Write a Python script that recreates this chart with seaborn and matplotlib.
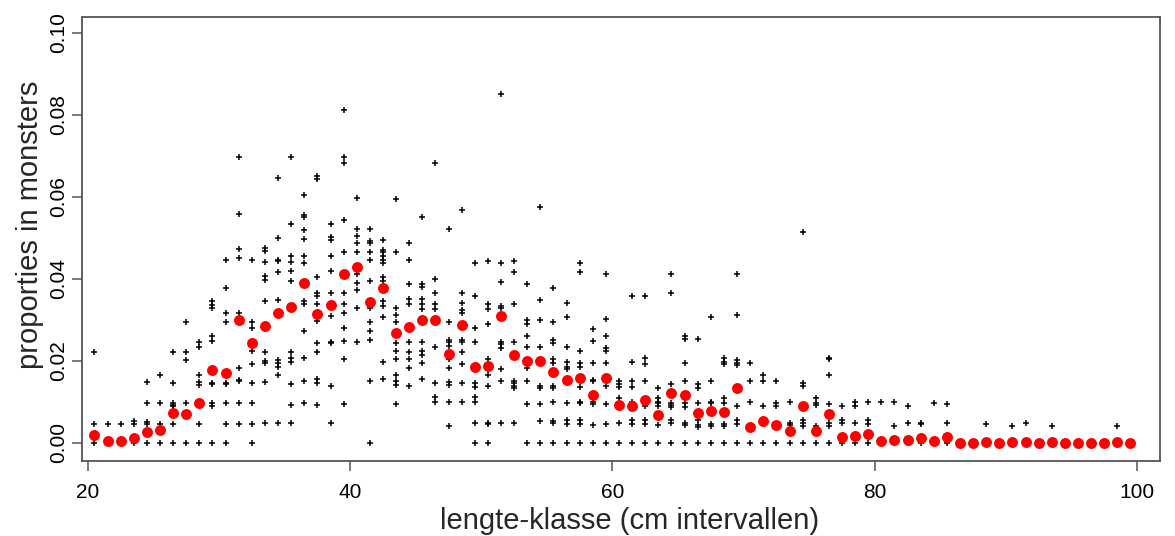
import numpy as np
import pandas as pd
import matplotlib
matplotlib.use('Agg')
import matplotlib.pyplot as plt
import seaborn as sns

# length classes (cm), midpoints of 1 cm intervals
length_class = np.arange(20.5, 100.0, 1.0)

# mean proportion per length class (red points)
mean_prop = [0.0020, 0.0004, 0.0004, 0.0012, 0.0027, 0.0032, 0.0073, 0.0071, 0.0097, 0.0178,
             0.0170, 0.0300, 0.0244, 0.0285, 0.0317, 0.0332, 0.0390, 0.0315, 0.0337, 0.0412,
             0.0430, 0.0344, 0.0378, 0.0268, 0.0283, 0.0300, 0.0300, 0.0217, 0.0288, 0.0185,
             0.0188, 0.0310, 0.0215, 0.0200, 0.0200, 0.0173, 0.0154, 0.0159, 0.0117, 0.0159,
             0.0093, 0.0090, 0.0105, 0.0068, 0.0122, 0.0117, 0.0073, 0.0078, 0.0076, 0.0134,
             0.0039, 0.0054, 0.0044, 0.0030, 0.0090, 0.0030, 0.0071, 0.0015, 0.0017, 0.0023,
             0.0005, 0.0007, 0.0007, 0.0012, 0.0005, 0.0015, 0.0000, 0.0000, 0.0003, 0.0000,
             0.0003, 0.0003, 0.0000, 0.0003, 0.0000, 0.0000, 0.0000, 0.0000, 0.0003, 0.0000]

# proportions in the individual samples, one list per length class (black crosses)
sample_prop = [
    [0.0223, 0.0046, 0],
    [0.0046, 0],
    [0.0046, 0],
    [0.0054, 0.0046, 0],
    [0.0148, 0.0097, 0.0050, 0.0046, 0],
    [0.0166, 0.0097, 0.0047, 0],
    [0.0223, 0.0146, 0.0097, 0.0093, 0.0089, 0.0047, 0],
    [0.0296, 0.0223, 0.0202, 0.0097, 0],
    [0.0246, 0.0233, 0.0166, 0.0148, 0.0141, 0.0097, 0.0047, 0],
    [0.0346, 0.0337, 0.0328, 0.0261, 0.0249, 0.0146, 0.0144, 0.0097, 0.0089, 0],
    [0.0446, 0.0379, 0.0316, 0.0296, 0.0146, 0.0143, 0.0097, 0.0047, 0],
    [0.0698, 0.0559, 0.0473, 0.0450, 0.0316, 0.0184, 0.0154, 0.0150, 0.0097, 0.0046],
    [0.0446, 0.0296, 0.0280, 0.0225, 0.0193, 0.0146, 0.0097, 0.0047, 0],
    [0.0475, 0.0468, 0.0442, 0.0408, 0.0397, 0.0346, 0.0223, 0.0201, 0.0194, 0.0148, 0.0048],
    [0.0647, 0.0500, 0.0446, 0.0443, 0.0418, 0.0349, 0.0202, 0.0194, 0.0186, 0.0166, 0.0048],
    [0.0697, 0.0534, 0.0456, 0.0442, 0.0420, 0.0396, 0.0223, 0.0207, 0.0198, 0.0143, 0.0093, 0.0048],
    [0.0605, 0.0557, 0.0550, 0.0519, 0.0497, 0.0456, 0.0438, 0.0347, 0.0340, 0.0272, 0.0207, 0.0151, 0.0097],
    [0.0652, 0.0645, 0.0406, 0.0365, 0.0358, 0.0340, 0.0298, 0.0243, 0.0223, 0.0155, 0.0146, 0.0093],
    [0.0534, 0.0503, 0.0494, 0.0456, 0.0420, 0.0365, 0.0310, 0.0247, 0.0243, 0.0140, 0.0048],
    [0.0812, 0.0697, 0.0682, 0.0544, 0.0467, 0.0365, 0.0340, 0.0316, 0.0280, 0.0249, 0.0204, 0.0095],
    [0.0597, 0.0523, 0.0505, 0.0487, 0.0465, 0.0412, 0.0391, 0.0372, 0.0328, 0.0247],
    [0.0523, 0.0492, 0.0487, 0.0467, 0.0446, 0.0396, 0.0330, 0.0296, 0.0272, 0.0251, 0.0151, 0],
    [0.0494, 0.0470, 0.0465, 0.0455, 0.0446, 0.0438, 0.0406, 0.0394, 0.0347, 0.0334, 0.0308, 0.0198, 0.0155],
    [0.0594, 0.0467, 0.0328, 0.0312, 0.0296, 0.0243, 0.0225, 0.0204, 0.0166, 0.0151, 0.0142, 0.0095],
    [0.0487, 0.0446, 0.0388, 0.0351, 0.0340, 0.0246, 0.0223, 0.0206, 0.0182, 0.0140],
    [0.0550, 0.0388, 0.0380, 0.0351, 0.0340, 0.0326, 0.0246, 0.0224, 0.0214, 0.0194, 0.0155],
    [0.0682, 0.0399, 0.0365, 0.0340, 0.0326, 0.0234, 0.0146, 0.0111, 0.0101],
    [0.0523, 0.0296, 0.0252, 0.0246, 0.0237, 0.0206, 0.0184, 0.0149, 0.0142, 0.0101, 0.0042],
    [0.0568, 0.0365, 0.0342, 0.0324, 0.0318, 0.0252, 0.0246, 0.0223, 0.0193, 0.0146, 0.0101],
    [0.0438, 0.0358, 0.0280, 0.0246, 0.0146, 0.0136, 0.0111, 0.0099, 0.0048, 0],
    [0.0444, 0.0340, 0.0326, 0.0290, 0.0206, 0.0166, 0.0140, 0.0048, 0.0046, 0],
    [0.0850, 0.0438, 0.0393, 0.0335, 0.0328, 0.0246, 0.0241, 0.0231, 0.0181, 0.0151, 0.0048],
    [0.0444, 0.0416, 0.0340, 0.0246, 0.0214, 0.0151, 0.0146, 0.0140, 0.0134, 0.0048],
    [0.0388, 0.0300, 0.0290, 0.0261, 0.0234, 0.0202, 0.0184, 0.0151, 0.0095, 0],
    [0.0576, 0.0349, 0.0301, 0.0234, 0.0140, 0.0134, 0.0095, 0.0054, 0],
    [0.0379, 0.0296, 0.0251, 0.0243, 0.0204, 0.0196, 0.0140, 0.0134, 0.0101, 0.0054, 0.0048, 0],
    [0.0341, 0.0308, 0.0235, 0.0198, 0.0185, 0.0180, 0.0097, 0.0056, 0.0046, 0],
    [0.0438, 0.0418, 0.0225, 0.0194, 0.0186, 0.0137, 0.0101, 0.0097, 0.0056, 0.0046, 0],
    [0.0278, 0.0249, 0.0196, 0.0154, 0.0150, 0.0101, 0.0096, 0.0044, 0],
    [0.0411, 0.0302, 0.0262, 0.0231, 0.0224, 0.0194, 0.0139, 0.0096, 0.0047, 0],
    [0.0150, 0.0144, 0.0137, 0.0109, 0.0048, 0],
    [0.0358, 0.0198, 0.0150, 0.0137, 0.0101, 0.0056, 0.0046, 0],
    [0.0358, 0.0207, 0.0192, 0.0150, 0.0097, 0.0090, 0.0056, 0.0046, 0],
    [0.0133, 0.0109, 0.0101, 0.0097, 0.0090, 0.0044, 0],
    [0.0411, 0.0365, 0.0144, 0.0097, 0.0093, 0.0088, 0.0056, 0.0048, 0],
    [0.0262, 0.0254, 0.0194, 0.0150, 0.0097, 0.0088, 0.0048, 0.0044, 0],
    [0.0254, 0.0144, 0.0133, 0.0097, 0.0056, 0.0044, 0.0040, 0],
    [0.0308, 0.0150, 0.0101, 0.0097, 0.0046, 0.0042, 0],
    [0.0207, 0.0198, 0.0192, 0.0109, 0.0097, 0.0046, 0.0042, 0],
    [0.0411, 0.0311, 0.0203, 0.0196, 0.0190, 0.0090, 0.0056, 0.0046, 0],
    [0.0196, 0.0152, 0.0101, 0],
    [0.0166, 0.0152, 0.0089, 0.0056, 0.0048, 0],
    [0.0152, 0.0097, 0.0089, 0],
    [0.0101, 0.0048, 0.0044, 0],
    [0.0515, 0.0146, 0.0139, 0.0056, 0.0048, 0.0042, 0],
    [0.0110, 0.0097, 0.0093, 0.0042, 0],
    [0.0207, 0.0205, 0.0166, 0.0095, 0.0048, 0.0042, 0],
    [0.0089, 0.0056, 0.0048, 0],
    [0.0101, 0.0089, 0.0048, 0],
    [0.0101, 0.0056, 0.0047, 0],
    [0.0101, 0],
    [0.0101, 0.0042, 0],
    [0.0089, 0.0048, 0],
    [0.0049, 0.0047, 0],
    [0.0098, 0],
    [0.0095, 0.0048, 0],
    [0],
    [0],
    [0.0046, 0],
    [0],
    [0.0042, 0],
    [0.0048, 0],
    [0],
    [0.0042, 0],
    [0],
    [0],
    [0],
    [0],
    [0.0042, 0],
    [0],
]

y_ticks = [0.00, 0.02, 0.04, 0.06, 0.08, 0.10]
x_ticks = [20, 40, 60, 80, 100]

# long format table for the samples
df_samples = pd.DataFrame(
    [(L, p) for L, props in zip(length_class, sample_prop) for p in props],
    columns=['lengte', 'proportie'])
df_mean = pd.DataFrame({'lengte': length_class, 'proportie': mean_prop})

sns.set_style('white')
plt.rcParams['font.family'] = ['Liberation Sans', 'DejaVu Sans']

fig = plt.figure(figsize=(11.75, 5.36), dpi=100)
ax = fig.add_axes([82 / 1175, 1 - 461 / 536, 1078 / 1175, 444 / 536])

sns.scatterplot(data=df_samples, x='lengte', y='proportie', marker='+', s=14,
                color='black', linewidth=1.1, ax=ax, legend=False)
sns.scatterplot(data=df_mean, x='lengte', y='proportie', marker='o', s=62,
                color='#ff0000', edgecolor='#ff0000', linewidth=0, ax=ax, legend=False)

ax.set_xlim(19.55, 101.75)
ax.set_ylim(-0.0044, 0.1039)
ax.set_xticks(x_ticks)
ax.set_xticklabels([str(t) for t in x_ticks])
ax.set_yticks(y_ticks)
ax.set_yticklabels(['%.2f' % t for t in y_ticks], rotation=90, va='center')

for sp in ax.spines.values():
    sp.set_color('#555555')
    sp.set_linewidth(1.3)
ax.tick_params(axis='both', which='major', direction='out', length=7, width=1.1,
               color='#555555', labelsize=15, labelcolor='black',
               bottom=True, left=True)
ax.tick_params(axis='x', pad=9)
ax.tick_params(axis='y', pad=3)

ax.set_xlabel('lengte-klasse (cm intervallen)', fontsize=21, va='center')
ax.set_ylabel('proporties in monsters', fontsize=21, va='center')
ax.xaxis.set_label_coords((630 - 82) / 1078, (461 - 521) / 444)
ax.yaxis.set_label_coords((30 - 82) / 1078, (461 - 225) / 444)

fig.savefig('out.png', dpi=100)
